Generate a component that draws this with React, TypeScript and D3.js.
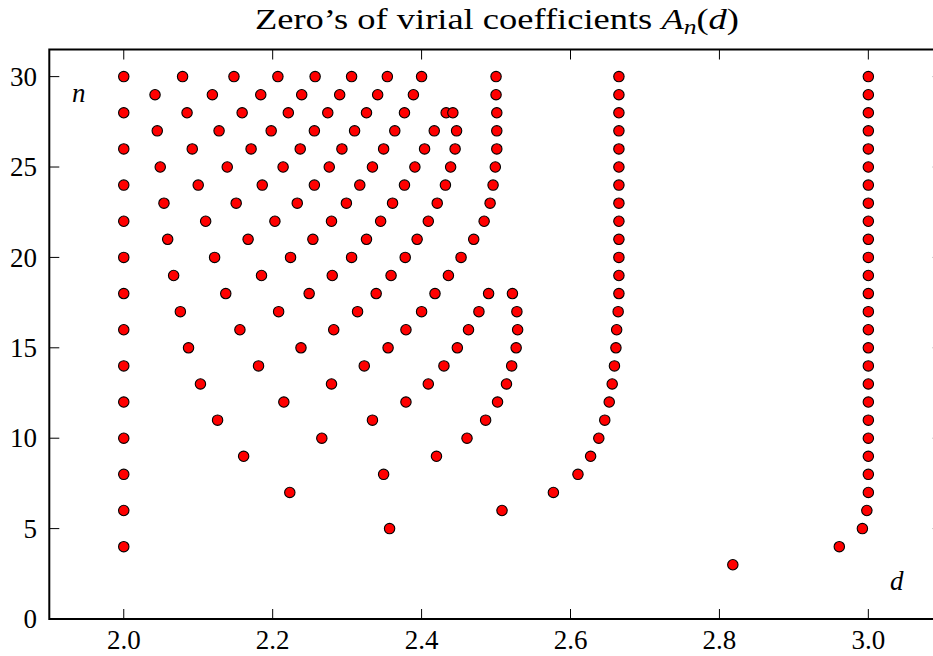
import React from "react";
import * as d3 from "d3";

// Zeros d of the virial coefficients A_n(d), one array per order n
const zerosN30 = [2.0, 2.079, 2.148, 2.207, 2.257, 2.306, 2.354, 2.4, 2.5, 2.665, 3.0];
const zerosN29 = [2.042, 2.119, 2.184, 2.239, 2.29, 2.341, 2.389, 2.5, 2.665, 3.0];
const zerosN28 = [2.0, 2.085, 2.159, 2.221, 2.274, 2.326, 2.377, 2.433, 2.442, 2.501, 2.665, 3.0];
const zerosN27 = [2.045, 2.128, 2.198, 2.256, 2.31, 2.364, 2.417, 2.447, 2.501, 2.665, 3.0];
const zerosN26 = [2.0, 2.092, 2.171, 2.237, 2.293, 2.349, 2.404, 2.445, 2.501, 2.665, 3.0];
const zerosN25 = [2.049, 2.139, 2.214, 2.276, 2.334, 2.391, 2.439, 2.499, 2.665, 3.0];
const zerosN24 = [2.0, 2.1, 2.186, 2.256, 2.317, 2.377, 2.432, 2.496, 2.665, 3.0];
const zerosN23 = [2.054, 2.151, 2.233, 2.299, 2.361, 2.421, 2.492, 2.665, 3.0];
const zerosN22 = [2.0, 2.11, 2.203, 2.279, 2.345, 2.409, 2.484, 2.665, 3.0];
const zerosN21 = [2.059, 2.167, 2.254, 2.326, 2.394, 2.47, 2.665, 3.0];
const zerosN20 = [2.0, 2.122, 2.224, 2.306, 2.378, 2.453, 2.665, 3.0];
const zerosN19 = [2.067, 2.185, 2.28, 2.359, 2.436, 2.665, 3.0];
const zerosN18 = [2.0, 2.137, 2.249, 2.339, 2.418, 2.49, 2.522, 2.665, 3.0];
const zerosN17 = [2.076, 2.208, 2.314, 2.4, 2.477, 2.528, 2.664, 3.0];
const zerosN16 = [2.0, 2.156, 2.282, 2.379, 2.463, 2.529, 2.662, 3.0];
const zerosN15 = [2.087, 2.238, 2.355, 2.448, 2.527, 2.661, 3.0];
const zerosN14 = [2.0, 2.181, 2.323, 2.43, 2.521, 2.659, 3.0];
const zerosN13 = [2.103, 2.279, 2.409, 2.514, 2.656, 3.0];
const zerosN12 = [2.0, 2.215, 2.379, 2.502, 2.652, 3.0];
const zerosN11 = [2.126, 2.334, 2.486, 2.646, 3.0];
const zerosN10 = [2.0, 2.266, 2.461, 2.638, 3.0];
const zerosN9 = [2.161, 2.42, 2.627, 3.0];
const zerosN8 = [2.0, 2.349, 2.61, 3.0];
const zerosN7 = [2.223, 2.577, 3.0];
const zerosN6 = [2.0, 2.508, 2.998];
const zerosN5 = [2.357, 2.992];
const zerosN4 = [2.0, 2.961];
const zerosN3 = [2.818];

const orders = [30, 29, 28, 27, 26, 25, 24, 23, 22, 21, 20, 19, 18, 17, 16, 15, 14, 13, 12, 11, 10, 9, 8, 7, 6, 5, 4, 3];
const zerosByOrder = [
  zerosN30, zerosN29, zerosN28, zerosN27, zerosN26, zerosN25, zerosN24, zerosN23,
  zerosN22, zerosN21, zerosN20, zerosN19, zerosN18, zerosN17, zerosN16, zerosN15,
  zerosN14, zerosN13, zerosN12, zerosN11, zerosN10, zerosN9, zerosN8, zerosN7,
  zerosN6, zerosN5, zerosN4, zerosN3,
];

const xTicks = [2.0, 2.2, 2.4, 2.6, 2.8, 3.0];
const xTickLabels = ["2.0", "2.2", "2.4", "2.6", "2.8", "3.0"];
const yTicks = [0, 5, 10, 15, 20, 25, 30];
const yTickLabels = ["0", "5", "10", "15", "20", "25", "30"];

const W = 933;
const H = 656;
const FONT = "Liberation Serif, DejaVu Serif, serif";

export default function App() {
  const x = d3.scaleLinear().domain([1.9, 3.1]).range([49.3, 942.8]);
  const y = d3.scaleLinear().domain([0, 31.5]).range([619, 49.5]);

  const points: { d: number; n: number }[] = [];
  orders.forEach((n, i) => zerosByOrder[i].forEach((d) => points.push({ d, n })));

  const [x0, x1] = x.range();
  const [y0, y1] = y.range();
  const txt = { fontFamily: FONT };

  return (
    <svg
      width={W}
      height={H}
      style={{ position: "absolute", left: 0, top: 0, background: "#fff", fontFamily: FONT }}
    >
      <rect x={0} y={0} width={W} height={H} fill="#fff" />
      {/* title */}
      <text
        x={255}
        y={29}
        style={{ ...txt, fontSize: "30px" }}
        textLength={484}
        lengthAdjust="spacingAndGlyphs"
        fill="#000"
      >
        Zero’s of virial coefficients{" "}
        <tspan style={{ fontStyle: "italic" }}>A</tspan>
        <tspan style={{ fontStyle: "italic", fontSize: "21px" }} dy={5}>n</tspan>
        <tspan dy={-5}>(</tspan>
        <tspan style={{ fontStyle: "italic" }}>d</tspan>
        <tspan>)</tspan>
      </text>

      {/* points */}
      <g>
        {points.map((p, i) => (
          <circle
            key={i}
            cx={x(p.d)}
            cy={y(p.n)}
            r={5.2}
            fill="#ff0000"
            stroke="#000"
            strokeWidth={1.1}
          />
        ))}
      </g>

      {/* ticks */}
      <g stroke="#000" strokeWidth={1}>
        {xTicks.map((t) => (
          <g key={"xt" + t}>
            <line x1={x(t)} x2={x(t)} y1={y0} y2={y0 - 10} />
            <line x1={x(t)} x2={x(t)} y1={y1} y2={y1 + 10} />
          </g>
        ))}
        {yTicks.map((t) => (
          <g key={"yt" + t}>
            <line x1={x0} x2={x0 + 10} y1={y(t)} y2={y(t)} />
            <line x1={x1} x2={x1 - 10} y1={y(t)} y2={y(t)} />
          </g>
        ))}
      </g>

      {/* spines */}
      <rect x={x0} y={y1} width={x1 - x0} height={y0 - y1} fill="none" stroke="#000" strokeWidth={2} />

      {/* tick labels */}
      <g fill="#000">
        {xTicks.map((t, i) => (
          <text key={"xl" + t} x={x(t)} y={649} textAnchor="middle" style={{ ...txt, fontSize: "27px" }}>
            {xTickLabels[i]}
          </text>
        ))}
        {yTicks.map((t, i) => (
          <text key={"yl" + t} x={37} y={y(t)} dy="0.34em" textAnchor="end" style={{ ...txt, fontSize: "27px" }}>
            {yTickLabels[i]}
          </text>
        ))}
      </g>

      {/* axis annotations */}
      <text x={72} y={101.5} style={{ ...txt, fontSize: "27px", fontStyle: "italic" }}>n</text>
      <text x={890} y={590} style={{ ...txt, fontSize: "27px", fontStyle: "italic" }}>d</text>
    </svg>
  );
}
